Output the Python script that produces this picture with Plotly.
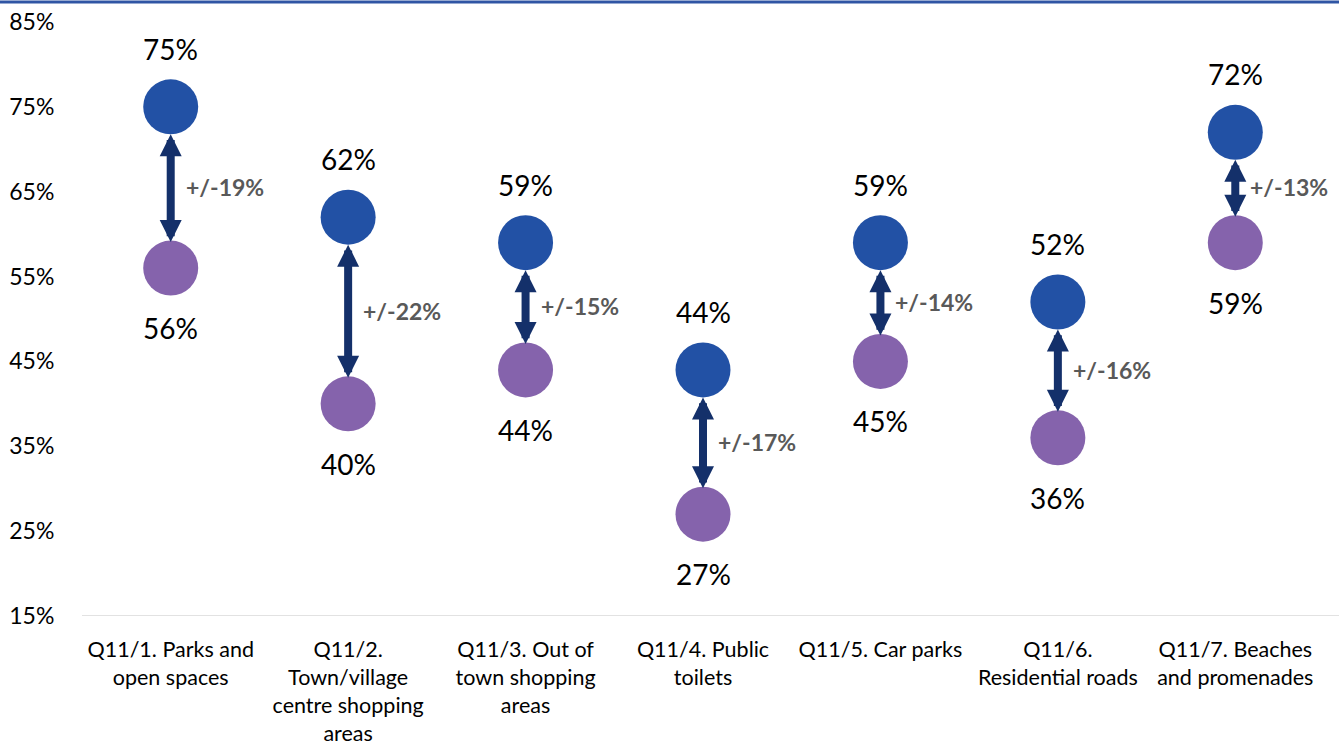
import plotly.graph_objects as go

categories = [
    "Q11/1. Parks and<br>open spaces",
    "Q11/2.<br>Town/village<br>centre shopping<br>areas",
    "Q11/3. Out of<br>town shopping<br>areas",
    "Q11/4. Public<br>toilets",
    "Q11/5. Car parks",
    "Q11/6.<br>Residential roads",
    "Q11/7. Beaches<br>and promenades",
]
upper_values = [75, 62, 59, 44, 59, 52, 72]
lower_values = [56, 40, 44, 27, 45, 36, 59]
gap_labels = ["+/-19%", "+/-22%", "+/-15%", "+/-17%", "+/-14%", "+/-16%", "+/-13%"]
tick_values = [15, 25, 35, 45, 55, 65, 75, 85]
tick_labels = [f"{v}%" for v in tick_values]

BLUE = "#2251A5"
PURPLE = "#8563AC"
NAVY = "#14306A"
FONT = "Lato"

x = list(range(len(categories)))

fig = go.Figure()
fig.add_trace(go.Scatter(x=x, y=upper_values, mode="markers",
                         marker=dict(size=55, color=BLUE), hoverinfo="skip"))
fig.add_trace(go.Scatter(x=x, y=lower_values, mode="markers",
                         marker=dict(size=55, color=PURPLE), hoverinfo="skip"))

annotations = []
for i in x:
    u, l = upper_values[i], lower_values[i]
    annotations.append(dict(
        x=i, y=l, ax=i, ay=u, xref="x", yref="y", axref="x", ayref="y",
        text="", showarrow=True, arrowhead=2, startarrowhead=2,
        arrowside="end+start", arrowsize=0.55, startarrowsize=0.55,
        arrowwidth=8, arrowcolor=NAVY, standoff=26, startstandoff=26))
    annotations.append(dict(
        x=i, y=(u + l) / 2, xref="x", yref="y", text=gap_labels[i],
        showarrow=False, xanchor="left", yanchor="middle", xshift=13,
        font=dict(family=FONT, size=23, color="#595959", weight="bold")))
    annotations.append(dict(
        x=i, y=u, xref="x", yref="y", text=f"{u}%", showarrow=False,
        yshift=58, font=dict(family=FONT, size=28, color="#000000")))
    annotations.append(dict(
        x=i, y=l, xref="x", yref="y", text=f"{l}%", showarrow=False,
        yshift=-60, font=dict(family=FONT, size=28, color="#000000")))

fig.update_layout(
    width=1339, height=746,
    margin=dict(l=82, r=15, t=22, b=130),
    paper_bgcolor="white", plot_bgcolor="white",
    showlegend=False,
    font=dict(family=FONT, size=22, color="#000000"),
    annotations=annotations,
    shapes=[
        dict(type="line", xref="paper", yref="paper", x0=-0.1, x1=1.02,
             y0=1 + 20 / 594, y1=1 + 20 / 594, line=dict(color="#2F55A4", width=3)),
        dict(type="line", xref="paper", yref="y", x0=0, x1=1 + 15 / 1242,
             y0=15, y1=15, line=dict(color="#D9D9D9", width=1.5)),
    ],
)
fig.update_xaxes(range=[-0.5, 6.5], tickvals=x, ticktext=categories,
                 showgrid=False, zeroline=False, showline=False, automargin=False,
                 tickfont=dict(family=FONT, size=21.5), ticks="outside",
                 ticklen=14, tickcolor="rgba(0,0,0,0)")
fig.update_yaxes(range=[15, 85], tickvals=tick_values, ticktext=tick_labels,
                 showgrid=False, zeroline=False, showline=False, automargin=False,
                 tickfont=dict(family=FONT, size=23), ticks="outside",
                 ticklen=22, tickcolor="rgba(0,0,0,0)")

fig.write_html("out.html", config={"displayModeBar": False},
               post_script="document.body.style.margin='0';")
